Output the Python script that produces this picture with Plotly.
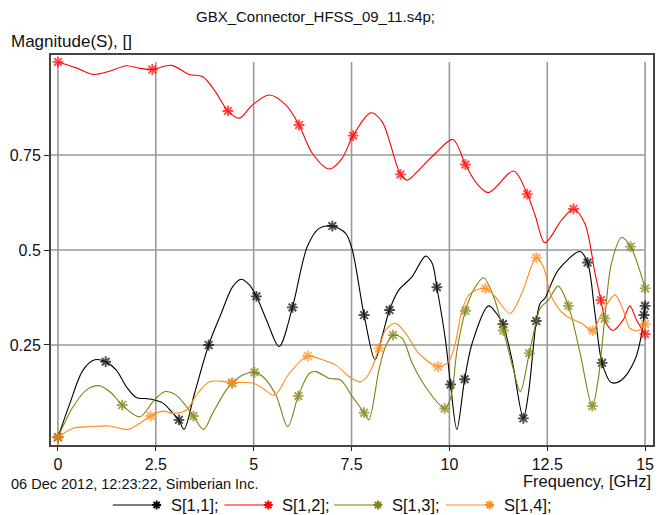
import plotly.graph_objects as go

# ---- S-parameter magnitudes (GBX connector, HFSS export) ----
# Each series: frequency samples [GHz], |S| values, and indices of the
# samples that carry an asterisk marker.
freq_s11 = [0.0, 0.3, 0.64, 0.94, 1.22, 1.49, 1.75, 2.0, 2.34, 2.68, 2.94, 3.09, 3.22, 3.49,
            3.85, 4.17, 4.46, 4.68, 4.89, 5.07, 5.35, 5.65, 5.99, 6.37, 6.67, 7.01, 7.35,
            7.52, 7.82, 8.10, 8.28, 8.47, 8.71, 9.05, 9.39, 9.56, 9.68, 9.90, 10.03, 10.19,
            10.39, 10.58, 11.0, 11.26, 11.37, 11.60, 11.89, 12.02, 12.22, 12.32, 12.44,
            12.78, 13.34, 13.53, 13.72, 13.90, 14.14, 14.4, 14.74, 14.93, 14.97, 15.0]
mag_s11 = [0.007, 0.095, 0.184, 0.211, 0.206, 0.184, 0.140, 0.112, 0.108, 0.097, 0.070, 0.053,
           0.028, 0.123, 0.250, 0.333, 0.403, 0.423, 0.408, 0.378, 0.310, 0.246, 0.349, 0.509,
           0.557, 0.563, 0.544, 0.500, 0.329, 0.211, 0.272, 0.342, 0.395, 0.430, 0.484, 0.465,
           0.402, 0.263, 0.146, 0.028, 0.160, 0.254, 0.353, 0.325, 0.305, 0.211, 0.057, 0.123,
           0.313, 0.360, 0.373, 0.447, 0.496, 0.467, 0.333, 0.203, 0.151, 0.158, 0.211, 0.290,
           0.329, 0.353]
mark_s11 = [0, 4, 11, 14, 19, 22, 25, 28, 31, 36, 38, 40, 44, 46, 48, 53, 55, 60, 61]

freq_s12 = [0.0, 0.45, 0.9, 1.3, 1.75, 2.1, 2.41, 2.9, 3.36, 3.70, 4.0, 4.34, 4.63, 4.97,
            5.40, 5.82, 6.16, 6.50, 6.93, 7.25, 7.54, 7.99, 8.28, 8.75, 8.92, 9.3, 9.64,
            10.09, 10.41, 10.7, 11.0, 11.64, 11.99, 12.2, 12.44, 12.87, 13.17, 13.46, 13.72,
            13.87, 14.01, 14.18, 14.44, 14.61, 14.78, 15.0]
mag_s12 = [0.995, 0.980, 0.962, 0.970, 0.985, 0.978, 0.975, 0.986, 0.962, 0.956, 0.920, 0.866,
           0.847, 0.882, 0.908, 0.882, 0.829, 0.754, 0.713, 0.740, 0.801, 0.861, 0.838, 0.699,
           0.684, 0.719, 0.754, 0.791, 0.725, 0.675, 0.651, 0.708, 0.647, 0.588, 0.519, 0.579,
           0.608, 0.570, 0.439, 0.368, 0.307, 0.288, 0.316, 0.353, 0.316, 0.279]
mark_s12 = [0, 6, 11, 16, 20, 23, 28, 32, 36, 39, 45]

freq_s13 = [0.0, 0.39, 0.73, 1.05, 1.37, 1.64, 2.09, 2.43, 2.72, 3.02, 3.28, 3.46, 3.72, 3.95,
            4.30, 4.45, 4.72, 5.02, 5.23, 5.57, 5.87, 6.14, 6.42, 6.59, 6.93, 7.22, 7.52, 7.82,
            7.94, 8.2, 8.37, 8.56, 8.79, 9.05, 9.39, 9.88, 10.03, 10.2, 10.41, 10.62, 10.87,
            11.13, 11.38, 11.64, 11.81, 12.04, 12.23, 12.32, 12.53, 12.78, 13.04, 13.34, 13.65,
            13.80, 13.97, 14.14, 14.40, 14.63, 14.86, 15.0]
mag_s13 = [0.007, 0.088, 0.132, 0.143, 0.123, 0.092, 0.061, 0.101, 0.127, 0.118, 0.088, 0.063,
           0.028, 0.070, 0.132, 0.149, 0.171, 0.178, 0.167, 0.118, 0.035, 0.116, 0.175, 0.180,
           0.162, 0.158, 0.114, 0.072, 0.053, 0.184, 0.246, 0.276, 0.268, 0.202, 0.140, 0.083,
           0.110, 0.240, 0.340, 0.395, 0.427, 0.377, 0.288, 0.184, 0.127, 0.228, 0.316, 0.347,
           0.368, 0.405, 0.353, 0.228, 0.089, 0.158, 0.320, 0.465, 0.533, 0.509, 0.447, 0.399]
mark_s13 = [0, 5, 11, 15, 17, 21, 27, 31, 35, 38, 42, 45, 50, 52, 54, 57, 59]

freq_s14 = [0.0, 0.39, 0.81, 1.32, 1.79, 2.09, 2.37, 2.68, 2.94, 3.28, 3.57, 3.87, 4.15, 4.45,
            4.97, 5.23, 5.53, 5.91, 6.38, 6.76, 7.10, 7.44, 7.73, 7.95, 8.20, 8.37, 8.62, 8.88,
            9.22, 9.71, 9.98, 10.15, 10.32, 10.53, 10.92, 11.17, 11.55, 11.85, 12.22, 12.40,
            12.61, 12.95, 13.38, 13.66, 13.89, 14.23, 14.44, 14.61, 14.82, 15.0]
mag_s14 = [0.007, 0.031, 0.035, 0.037, 0.028, 0.044, 0.063, 0.076, 0.070, 0.079, 0.123, 0.153,
           0.155, 0.151, 0.150, 0.136, 0.118, 0.175, 0.221, 0.211, 0.197, 0.167, 0.153, 0.175,
           0.241, 0.289, 0.307, 0.281, 0.228, 0.193, 0.206, 0.254, 0.340, 0.386, 0.399, 0.377,
           0.333, 0.386, 0.480, 0.456, 0.377, 0.329, 0.307, 0.288, 0.333, 0.382, 0.342, 0.294,
           0.288, 0.305]
mark_s14 = [0, 6, 13, 18, 24, 29, 34, 38, 43, 49]

series_names = ["S[1,1];", "S[1,2];", "S[1,3];", "S[1,4];"]
series_colors = ["#000000", "#ff0000", "#808010", "#ff8c1a"]

x_ticks = [0, 2.5, 5, 7.5, 10, 12.5, 15]
x_tick_text = ["0", "2.5", "5", "7.5", "10", "12.5", "15"]
y_ticks = [0.25, 0.5, 0.75]
y_tick_text = ["0.25", "0.5", "0.75"]

# ---- geometry ----
W, H = 659, 515
M_L, M_R, M_T, M_B = 51, 4, 55, 70
PW, PH = W - M_L - M_R, H - M_T - M_B
X_RANGE = [-0.178, 15.202]
Y_RANGE = [-0.0132, 1.0132]
GRID_TOP = 0.995
FONT = "Liberation Sans, Arial, sans-serif"
TXT = "#111111"
MARK_SIZE = 9
MARK_LW = 1.9


def px_to_paper(px, py):
    return (px - M_L) / PW, (M_T + PH - py) / PH


fig = go.Figure()

data = [(freq_s11, mag_s11, mark_s11), (freq_s12, mag_s12, mark_s12),
        (freq_s13, mag_s13, mark_s13), (freq_s14, mag_s14, mark_s14)]

for (fx, mg, mk), name, col in zip(data, series_names, series_colors):
    sizes = [MARK_SIZE if i in mk else 0 for i in range(len(fx))]
    fig.add_trace(go.Scatter(
        x=fx, y=mg, name=name, mode="lines+markers",
        line=dict(color=col, width=1.1, shape="spline", smoothing=0.9),
        marker=dict(symbol="asterisk-open", size=sizes,
                    line=dict(color=col, width=MARK_LW)),
        showlegend=False, hoverinfo="skip"))

# ---- grid (stops at the last tick on the right and just below the top frame) ----
shapes = []
for xv in x_ticks:
    shapes.append(dict(type="line", xref="x", yref="y", x0=xv, x1=xv,
                       y0=Y_RANGE[0], y1=GRID_TOP, layer="below",
                       line=dict(color="#9a9a9a", width=1.6)))
for yv in y_ticks:
    shapes.append(dict(type="line", xref="x", yref="y", x0=X_RANGE[0], x1=x_ticks[-1],
                       y0=yv, y1=yv, layer="below",
                       line=dict(color="#9a9a9a", width=1.6)))


def asterisk_path(cx, cy, r):
    """Eight-armed asterisk centred on pixel (cx, cy), as a paper-space path."""
    d = r * 0.7071
    segs = [(-r, 0, r, 0), (0, -r, 0, r), (-d, -d, d, d), (-d, d, d, -d)]
    parts = []
    for ax, ay, bx, by in segs:
        p0 = px_to_paper(cx + ax, cy + ay)
        p1 = px_to_paper(cx + bx, cy + by)
        parts.append(f"M{p0[0]:.5f},{p0[1]:.5f} L{p1[0]:.5f},{p1[1]:.5f}")
    return " ".join(parts)


# ---- legend row underneath the chart ----
legend_x = [113, 225, 335, 447]
legend_y = 505
line_len = 44
annotations = []
for lx, name, col in zip(legend_x, series_names, series_colors):
    x0, y0 = px_to_paper(lx, legend_y)
    x1, _ = px_to_paper(lx + line_len, legend_y)
    shapes.append(dict(type="line", xref="paper", yref="paper", x0=x0, x1=x1,
                       y0=y0, y1=y0, line=dict(color=col, width=1.1)))
    shapes.append(dict(type="path", xref="paper", yref="paper",
                       path=asterisk_path(lx + line_len, legend_y, MARK_SIZE / 2),
                       line=dict(color=col, width=MARK_LW)))
    tx, ty = px_to_paper(lx + line_len + 12, legend_y)
    annotations.append(dict(text=name, xref="paper", yref="paper", x=tx, y=ty,
                            xanchor="left", yanchor="middle", showarrow=False,
                            font=dict(family=FONT, size=16.5, color=TXT)))


def label(text, px, py, xanchor, size):
    x, y = px_to_paper(px, py)
    annotations.append(dict(text=text, xref="paper", yref="paper", x=x, y=y,
                            xanchor=xanchor, yanchor="middle", showarrow=False,
                            font=dict(family=FONT, size=size, color=TXT)))


label("GBX_Connector_HFSS_09_11.s4p;", 316, 17, "center", 15)
label("Magnitude(S), []", 9, 42, "left", 17)
label("Frequency, [GHz]", 655, 481, "right", 16.5)
label("06 Dec 2012, 12:23:22, Simberian Inc.", 9, 484, "left", 14.5)

fig.update_layout(
    width=W, height=H,
    margin=dict(l=M_L, r=M_R, t=M_T, b=M_B, pad=0),
    paper_bgcolor="white", plot_bgcolor="white",
    shapes=shapes, annotations=annotations,
    font=dict(family=FONT, color=TXT),
    xaxis=dict(range=X_RANGE, tickvals=x_ticks, ticktext=x_tick_text,
               showgrid=False, zeroline=False, showline=True, mirror=True,
               linecolor="#444444", linewidth=2, ticks="outside", ticklen=4,
               tickcolor="#222222", tickwidth=1.2,
               tickfont=dict(family=FONT, size=16, color=TXT)),
    yaxis=dict(range=Y_RANGE, tickvals=y_ticks, ticktext=y_tick_text,
               showgrid=False, zeroline=False, showline=True, mirror=True,
               linecolor="#444444", linewidth=2, ticks="outside", ticklen=5,
               tickcolor="#222222", tickwidth=1.2,
               tickfont=dict(family=FONT, size=16, color=TXT)),
)

fig.write_html("out.html")
